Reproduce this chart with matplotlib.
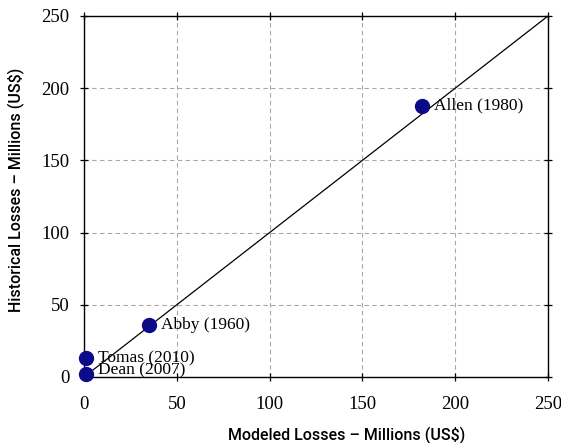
"""Modeled vs historical hurricane losses, scatter with 1:1 line."""

import matplotlib
matplotlib.use("Agg")
import matplotlib.pyplot as plt

storm_names = ["Allen (1980)", "Abby (1960)", "Tomas (2010)", "Dean (2007)"]
modeled_losses = [182, 35, 1, 1]
historical_losses = [188, 36, 13, 2]

axis_ticks = [0, 50, 100, 150, 200, 250]

fig = plt.figure(figsize=(5.61, 4.43), dpi=100)
ax = fig.add_axes((0.1497, 0.149, 0.8271, 0.8149))

ax.plot([0, 250], [0, 250], color="black", linewidth=0.9, zorder=2)
ax.scatter(modeled_losses, historical_losses, s=100, color="#0b0b8a", zorder=3, clip_on=False)
for name, x, y in zip(storm_names, modeled_losses, historical_losses):
    # Dean's label is nudged up so it doesn't sit on the x axis
    dy = 3 if name.startswith("Dean") else 0
    ax.annotate(name, (x, y), xytext=(9, dy), textcoords="offset points",
                va="center", ha="left", fontsize=12.5, family="Liberation Serif",
                annotation_clip=False)

ax.set_xlim(0, 250)
ax.set_ylim(0, 250)
ax.set_xticks(axis_ticks)
ax.set_yticks(axis_ticks)
ax.grid(True, color="#a8a8a8", linestyle=(0, (4, 3)), linewidth=0.8)
ax.set_axisbelow(True)

ax.tick_params(direction="inout", length=6, width=0.9, top=True, right=True,
               labelsize=13.5, pad=7.5)
ax.tick_params(axis="x", pad=11)
for label in ax.get_xticklabels() + ax.get_yticklabels():
    label.set_family("Liberation Serif")
for spine in ax.spines.values():
    spine.set_linewidth(1.0)

ax.set_xlabel("Modeled Losses \u2013 Millions (US$)", fontsize=11.5, family="Roboto",
              fontweight="medium")
ax.set_ylabel("Historical Losses \u2013 Millions (US$)", fontsize=11.5, family="Roboto",
              fontweight="medium")
# labels sit a bit off-centre in the original
ax.xaxis.set_label_coords(0.567, -0.138)
ax.yaxis.set_label_coords(-0.128, 0.518)

fig.savefig("out.png", dpi=100)
